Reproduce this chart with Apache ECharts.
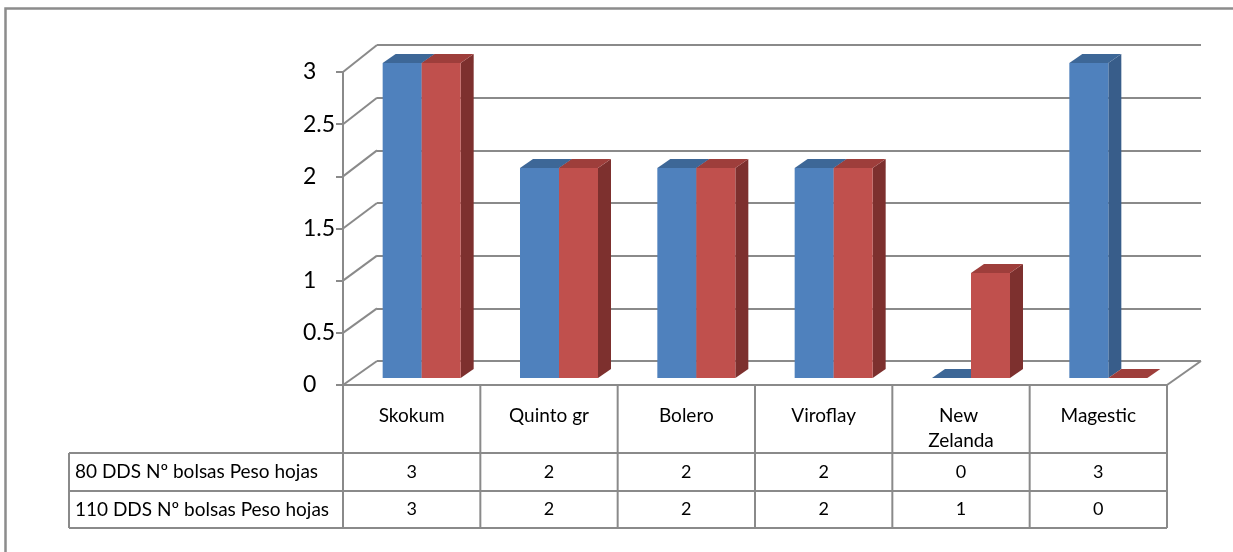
<!DOCTYPE html>
<html><head><meta charset="utf-8">
<script src="https://cdn.jsdelivr.net/npm/echarts@6/dist/echarts.min.js"></script>
<style>html,body{margin:0;padding:0;background:#fff}#c{width:1233px;height:552px}</style>
</head><body><div id="c"></div>
<script>
// ---- data ----
const categories = ['Skokum', 'Quinto gr', 'Bolero', 'Viroflay', 'New Zelanda', 'Magestic'];
const seriesNames = ['80 DDS Nº bolsas Peso hojas', '110 DDS Nº bolsas Peso hojas'];
const values80 = [3, 2, 2, 2, 0, 3];
const values110 = [3, 2, 2, 2, 1, 0];
const yMin = 0, yMax = 3, yStep = 0.5;

// ---- layout / style ----
const FONT = 'Lato, "Open Sans", sans-serif';
const GRAY = '#8a8a8a';
const FRONT = {left: 343, top: 72, width: 824, height: 313};
const BACK = {left: 377, top: 45, width: 824, height: 316};
const BARS = {left: 353, top: 63, width: 824, height: 315};
const DEPTH = [13, -9];
const BAR_FRAC = 0.284;
const COLORS = [
  {front: '#4F81BD', top: '#3D6797', side: '#385D8A'},
  {front: '#C0504D', top: '#9E3E3B', side: '#7D302E'}
];
const TABLE = {headLeft: 69, row1: 453, row2: 491, bottom: 528, textX: 75};

function renderBar(sIdx) {
  return function (params, api) {
    const i = api.value(0), v = api.value(1);
    const base = api.coord([i, 0]);
    const topP = api.coord([i, v]);
    const band = api.size([1, 0])[0];
    const bw = band * BAR_FRAC;
    const x0 = sIdx === 0 ? base[0] - bw : base[0];
    const x1 = x0 + bw;
    const yt = topP[1], yb = base[1];
    const dx = DEPTH[0], dy = DEPTH[1];
    const c = COLORS[sIdx];
    const children = [];
    if (yb - yt > 0.5) {
      children.push({type: 'polygon', shape: {points: [[x1, yt], [x1 + dx, yt + dy], [x1 + dx, yb + dy], [x1, yb]]}, style: {fill: c.side}});
      children.push({type: 'rect', shape: {x: x0, y: yt, width: bw, height: yb - yt}, style: {fill: c.front}});
    }
    children.push({type: 'polygon', shape: {points: [[x0, yt], [x1, yt], [x1 + dx, yt + dy], [x0 + dx, yt + dy]]}, style: {fill: c.top}});
    return {type: 'group', children: children};
  };
}

const chart = echarts.init(document.getElementById('c'), null, {renderer: 'canvas'});
const hiddenAxis = {show: true, axisLine: {show: false}, axisTick: {show: false}, axisLabel: {show: false}, splitLine: {show: false}};

chart.setOption({
  animation: false,
  backgroundColor: '#fff',
  grid: [
    Object.assign({}, FRONT, {containLabel: false}),
    Object.assign({}, BACK, {containLabel: false}),
    Object.assign({}, BARS, {containLabel: false})
  ],
  xAxis: [
    {type: 'category', gridIndex: 0, data: categories,
     axisLine: {show: false}, axisTick: {show: false}, splitLine: {show: false},
     axisLabel: {interval: 0, margin: 18, fontSize: 19, fontFamily: FONT, color: '#000',
                 lineHeight: 25, width: 90, overflow: 'break', verticalAlign: 'top'}},
    Object.assign({type: 'category', gridIndex: 1, data: categories}, hiddenAxis),
    Object.assign({type: 'category', gridIndex: 2, data: categories}, hiddenAxis)
  ],
  yAxis: [
    {type: 'value', gridIndex: 0, min: yMin, max: yMax, interval: yStep,
     axisLine: {show: true, lineStyle: {color: GRAY, width: 2}},
     axisTick: {show: true, length: 7, lineStyle: {color: GRAY, width: 2}},
     splitLine: {show: false},
     axisLabel: {margin: 40, align: 'left', fontSize: 23, fontFamily: FONT, color: '#000'}},
    {type: 'value', gridIndex: 1, min: yMin, max: yMax, interval: yStep,
     axisLine: {show: false}, axisTick: {show: false}, axisLabel: {show: false},
     splitLine: {show: true, lineStyle: {color: GRAY, width: 2}}},
    Object.assign({type: 'value', gridIndex: 2, min: yMin, max: yMax, interval: yStep}, hiddenAxis)
  ],
  series: [
    {type: 'custom', name: seriesNames[0], xAxisIndex: 2, yAxisIndex: 2,
     renderItem: renderBar(0), data: values80.map((v, i) => [i, v])},
    {type: 'custom', name: seriesNames[1], xAxisIndex: 2, yAxisIndex: 2,
     renderItem: renderBar(1), data: values110.map((v, i) => [i, v])}
  ]
});

// ---- second pass: side wall, floor edge and data table, positioned from the axes ----
const fy = v => chart.convertToPixel({yAxisIndex: 0}, v);
const by = v => chart.convertToPixel({yAxisIndex: 1}, v);
const cx = i => chart.convertToPixel({xAxisIndex: 0}, i);
const g = [];
const line = (x1, y1, x2, y2, w) => g.push({type: 'line', shape: {x1, y1, x2, y2}, style: {stroke: GRAY, lineWidth: w || 2}, z: 1});

// outer chart border (top and left visible)
g.push({type: 'rect', shape: {x: 5.5, y: 8.5, width: 1300, height: 600}, style: {fill: null, stroke: '#8c8c8c', lineWidth: 2.5}, z: 0});

for (let v = yMin; v <= yMax + 1e-9; v += yStep) {
  line(FRONT.left, fy(v), BACK.left, by(v));
}
const fRight = FRONT.left + FRONT.width, bRight = BACK.left + BACK.width;
line(fRight, fy(0), bRight, by(0));

// table
const y0 = fy(0);
line(FRONT.left, y0, fRight, y0);
[TABLE.row1, TABLE.row2, TABLE.bottom].forEach(y => line(TABLE.headLeft, y, fRight, y));
const colW = FRONT.width / categories.length;
for (let i = 0; i <= categories.length; i++) {
  line(FRONT.left + i * colW, y0, FRONT.left + i * colW, TABLE.bottom);
}
line(TABLE.headLeft, TABLE.row1, TABLE.headLeft, TABLE.bottom);

const rowsVals = [values80, values110];
const rowY = [(TABLE.row1 + TABLE.row2) / 2, (TABLE.row2 + TABLE.bottom) / 2];
rowsVals.forEach((vals, r) => {
  g.push({type: 'text', x: TABLE.textX, y: rowY[r], style: {text: seriesNames[r], fontSize: 19, fontFamily: FONT, fill: '#000', verticalAlign: 'middle', align: 'left'}, z: 2});
  vals.forEach((v, i) => {
    g.push({type: 'text', x: cx(i), y: rowY[r], style: {text: String(v), fontSize: 18, fontFamily: FONT, fill: '#000', verticalAlign: 'middle', align: 'center'}, z: 2});
  });
});

chart.setOption({graphic: g});
</script>
</body></html>
